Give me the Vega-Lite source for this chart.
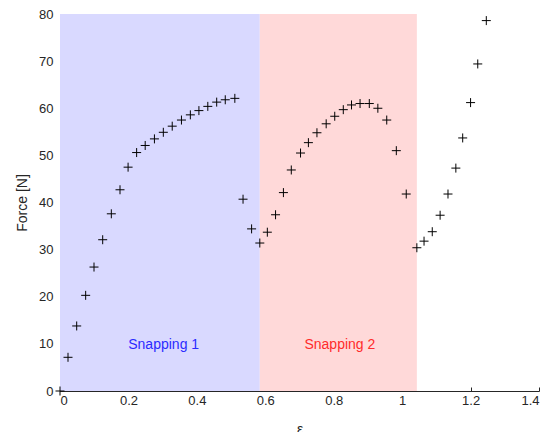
{
  "$schema": "https://vega.github.io/schema/vega-lite/v6.json",
  "width": 479,
  "height": 377,
  "autosize": {"type": "none"},
  "padding": {"left": 60, "top": 14, "right": 13, "bottom": 41},
  "background": "white",
  "config": {
    "view": {"stroke": null},
    "font": "Liberation Sans",
    "axis": {
      "grid": false,
      "domainColor": "#262626",
      "tickColor": "#262626",
      "labelColor": "#262626",
      "titleColor": "#262626",
      "labelFont": "Liberation Sans",
      "titleFont": "Liberation Sans",
      "labelFontSize": 13,
      "titleFontSize": 14,
      "titleFontWeight": "normal",
      "tickSize": -4
    }
  },
  "datasets": {
    "regions": [
      {"start": 0, "end": 0.584, "name": "Snapping 1"},
      {"start": 0.584, "end": 1.043, "name": "Snapping 2"}
    ],
    "labels": [
      {"x": 0.303, "y": 9.8, "name": "Snapping 1"},
      {"x": 0.818, "y": 9.8, "name": "Snapping 2"}
    ],
    "points": [
      {"strain": 0.0, "force": 0.0},
      {"strain": 0.0234, "force": 7.15},
      {"strain": 0.0488, "force": 13.8},
      {"strain": 0.075, "force": 20.3},
      {"strain": 0.0994, "force": 26.3},
      {"strain": 0.1248, "force": 32.1},
      {"strain": 0.150, "force": 37.6},
      {"strain": 0.1754, "force": 42.7},
      {"strain": 0.199, "force": 47.5},
      {"strain": 0.224, "force": 50.6},
      {"strain": 0.249, "force": 52.1},
      {"strain": 0.276, "force": 53.5},
      {"strain": 0.302, "force": 54.9},
      {"strain": 0.328, "force": 56.2},
      {"strain": 0.355, "force": 57.5},
      {"strain": 0.381, "force": 58.6},
      {"strain": 0.406, "force": 59.5},
      {"strain": 0.432, "force": 60.4},
      {"strain": 0.458, "force": 61.3},
      {"strain": 0.483, "force": 61.8},
      {"strain": 0.511, "force": 62.1},
      {"strain": 0.535, "force": 40.7},
      {"strain": 0.560, "force": 34.4},
      {"strain": 0.584, "force": 31.4},
      {"strain": 0.606, "force": 33.7},
      {"strain": 0.630, "force": 37.4},
      {"strain": 0.653, "force": 42.1},
      {"strain": 0.676, "force": 46.9},
      {"strain": 0.703, "force": 50.5},
      {"strain": 0.726, "force": 52.7},
      {"strain": 0.751, "force": 54.8},
      {"strain": 0.778, "force": 56.7},
      {"strain": 0.803, "force": 58.3},
      {"strain": 0.828, "force": 59.7},
      {"strain": 0.852, "force": 60.7},
      {"strain": 0.877, "force": 61.0},
      {"strain": 0.904, "force": 61.0},
      {"strain": 0.929, "force": 60.0},
      {"strain": 0.955, "force": 57.5},
      {"strain": 0.983, "force": 51.0},
      {"strain": 1.012, "force": 41.8},
      {"strain": 1.043, "force": 30.4},
      {"strain": 1.064, "force": 31.8},
      {"strain": 1.088, "force": 33.8},
      {"strain": 1.111, "force": 37.3},
      {"strain": 1.134, "force": 41.8},
      {"strain": 1.157, "force": 47.3},
      {"strain": 1.177, "force": 53.7},
      {"strain": 1.200, "force": 61.2},
      {"strain": 1.221, "force": 69.4},
      {"strain": 1.246, "force": 78.6}
    ]
  },
  "layer": [
    {
      "data": {"name": "regions"},
      "mark": {"type": "rect", "opacity": 1},
      "encoding": {
        "x": {"field": "start", "type": "quantitative", "scale": {"domain": [0, 1.4], "nice": false}},
        "x2": {"field": "end"},
        "y": {"datum": 0, "type": "quantitative"},
        "y2": {"datum": 80},
        "color": {
          "field": "name", "type": "nominal",
          "scale": {"domain": ["Snapping 1", "Snapping 2"], "range": ["#d9d9ff", "#ffd9d9"]},
          "legend": null
        }
      }
    },
    {
      "data": {"name": "labels"},
      "mark": {"type": "text", "align": "center", "baseline": "middle", "fontSize": 14, "font": "Liberation Sans"},
      "encoding": {
        "x": {"field": "x", "type": "quantitative"},
        "y": {"field": "y", "type": "quantitative"},
        "text": {"field": "name"},
        "color": {
          "field": "name", "type": "nominal",
          "scale": {"domain": ["Snapping 1", "Snapping 2"], "range": ["#2b2bff", "#ff2b2b"]},
          "legend": null
        }
      }
    },
    {
      "data": {"name": "points"},
      "mark": {"type": "point", "shape": "M-1,0H1M0,-1V1", "filled": false, "stroke": "black", "strokeWidth": 1, "size": 81, "opacity": 1},
      "encoding": {
        "x": {
          "field": "strain", "type": "quantitative",
          "scale": {"domain": [0, 1.4], "nice": false},
          "axis": {"title": "ε", "values": [0, 0.2, 0.4, 0.6, 0.8, 1, 1.2, 1.4], "format": "~g", "labelPadding": 7, "titlePadding": 15}
        },
        "y": {
          "field": "force", "type": "quantitative",
          "scale": {"domain": [0, 80], "nice": false},
          "axis": {"title": "Force [N]", "values": [0, 10, 20, 30, 40, 50, 60, 70, 80], "labelPadding": 11, "titlePadding": 9}
        }
      }
    }
  ],
  "resolve": {"scale": {"color": "independent"}}
}
